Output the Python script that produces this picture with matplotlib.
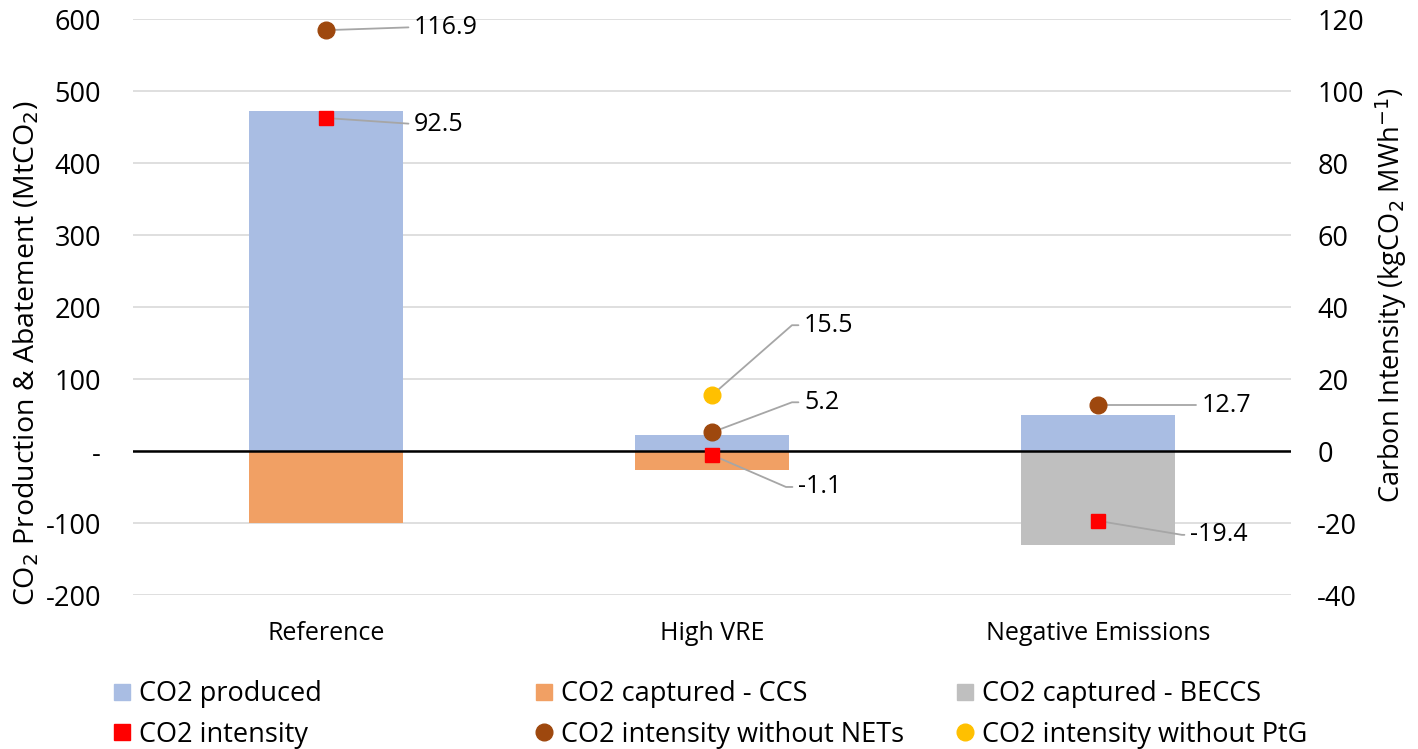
import matplotlib
matplotlib.use("Agg")
import matplotlib.pyplot as plt
from matplotlib.lines import Line2D

plt.rcParams['font.family'] = ['Open Sans', 'DejaVu Sans']
plt.rcParams['axes.unicode_minus'] = False

categories = ["Reference", "High VRE", "Negative Emissions"]
co2_produced = [472, 22, 50]
co2_captured_ccs = [-100, -27, 0]
co2_captured_beccs = [0, 0, -131]
intensity = [92.5, -1.1, -19.4]
intensity_no_nets = [116.9, 5.2, 12.7]
intensity_no_ptg = [None, 15.5, None]
left_ticks = [-200, -100, 0, 100, 200, 300, 400, 500, 600]
left_ticklabels = ["-200", "-100", "-", "100", "200", "300", "400", "500", "600"]
right_ticks = [-40, -20, 0, 20, 40, 60, 80, 100, 120]

c_prod = "#A9BDE3"
c_ccs = "#F1A064"
c_beccs = "#BFBFBF"
c_int = "#FF0000"
c_nets = "#9E480E"
c_ptg = "#FFC000"
c_lead = "#A6A6A6"

fig = plt.figure(figsize=(14.18, 7.49), dpi=100)
ax = fig.add_axes([0.0938, 0.2056, 0.8166, 0.769])
ax2 = ax.twinx()

x = list(range(len(categories)))
ax.bar(x, co2_produced, width=0.4, color=c_prod, zorder=2)
ax.bar(x, co2_captured_ccs, width=0.4, color=c_ccs, zorder=2)
ax.bar(x, co2_captured_beccs, width=0.4, color=c_beccs, zorder=2)
ax.axhline(0, color="black", lw=1.8, zorder=3)

ax.set_xlim(-0.5, 2.5)
ax.set_ylim(-200, 600)
ax.set_yticks(left_ticks)
ax.set_yticklabels(left_ticklabels)
ax.set_xticks(x)
ax.set_xticklabels(categories)
ax.grid(axis="y", color="#D9D9D9", lw=1.2, zorder=0)
ax.set_axisbelow(True)
for s in ax.spines.values():
    s.set_visible(False)
for s in ax2.spines.values():
    s.set_visible(False)
ax.tick_params(axis="y", length=0, labelsize=19.5, pad=23)
ax.tick_params(axis="x", length=0, labelsize=18, pad=19)
ax.set_ylabel("CO$_2$ Production & Abatement (MtCO$_2$)", fontsize=20.5)
ax.yaxis.set_label_coords(-0.079, 0.42)

ax2.set_ylim(-40, 120)
ax2.set_yticks(right_ticks)
ax2.tick_params(axis="y", length=0, labelsize=19.5, pad=19)
ax2.set_ylabel("Carbon Intensity (kgCO$_2$ MWh$^{-1}$)", fontsize=19.5)
ax2.yaxis.set_label_coords(1.071, 0.52)

ax2.plot(x, intensity, linestyle="none", marker="s", ms=10, color=c_int, zorder=5)
ax2.plot(x, intensity_no_nets, linestyle="none", marker="o", ms=12, color=c_nets, zorder=5)
xp = [i for i, v in zip(x, intensity_no_ptg) if v is not None]
vp = [v for v in intensity_no_ptg if v is not None]
ax2.plot(xp, vp, linestyle="none", marker="o", ms=12, color=c_ptg, zorder=5)

def label(xi, val, dx, dy, arm):
    ax2.annotate(f"{val:.1f}", xy=(xi, val), xytext=(dx, dy), textcoords="offset pixels",
                 fontsize=18, va="center", ha="left",
                 arrowprops=dict(arrowstyle="-", color=c_lead, lw=1.3, shrinkA=2, shrinkB=0,
                                 relpos=(0, 0.5),
                                 connectionstyle=f"arc,angleA=180,angleB=0,armA={arm},armB=0,rad=0"))

# Reference
label(0, intensity_no_nets[0], 88, 3, 0)
label(0, intensity[0], 88, -6, 0)
# High VRE
label(1, intensity_no_ptg[1], 92, 70, 12)
label(1, intensity_no_nets[1], 92, 30, 12)
label(1, intensity[1], 86, -32, 12)
# Negative Emissions
label(2, intensity_no_nets[2], 104, 0, 0)
label(2, intensity[2], 92, -14, 8)

col_handles = [
    [Line2D([], [], linestyle="none", marker="s", ms=11, color=c_prod),
     Line2D([], [], linestyle="none", marker="s", ms=11, color=c_int)],
    [Line2D([], [], linestyle="none", marker="s", ms=11, color=c_ccs),
     Line2D([], [], linestyle="none", marker="o", ms=12, color=c_nets)],
    [Line2D([], [], linestyle="none", marker="s", ms=11, color=c_beccs),
     Line2D([], [], linestyle="none", marker="o", ms=12, color=c_ptg)],
]
col_labels = [["CO2 produced", "CO2 intensity"],
              ["CO2 captured - CCS", "CO2 intensity without NETs"],
              ["CO2 captured - BECCS", "CO2 intensity without PtG"]]
col_x = [113, 535, 956]
for hs, ls, cx in zip(col_handles, col_labels, col_x):
    leg = fig.legend(hs, ls, loc="center left", bbox_to_anchor=(cx / 1418, 0.046),
                     frameon=False, fontsize=19.5, handlelength=0.7, handletextpad=0.25,
                     labelspacing=0.46, borderpad=0, borderaxespad=0)

fig.savefig("out.png", dpi=100)
